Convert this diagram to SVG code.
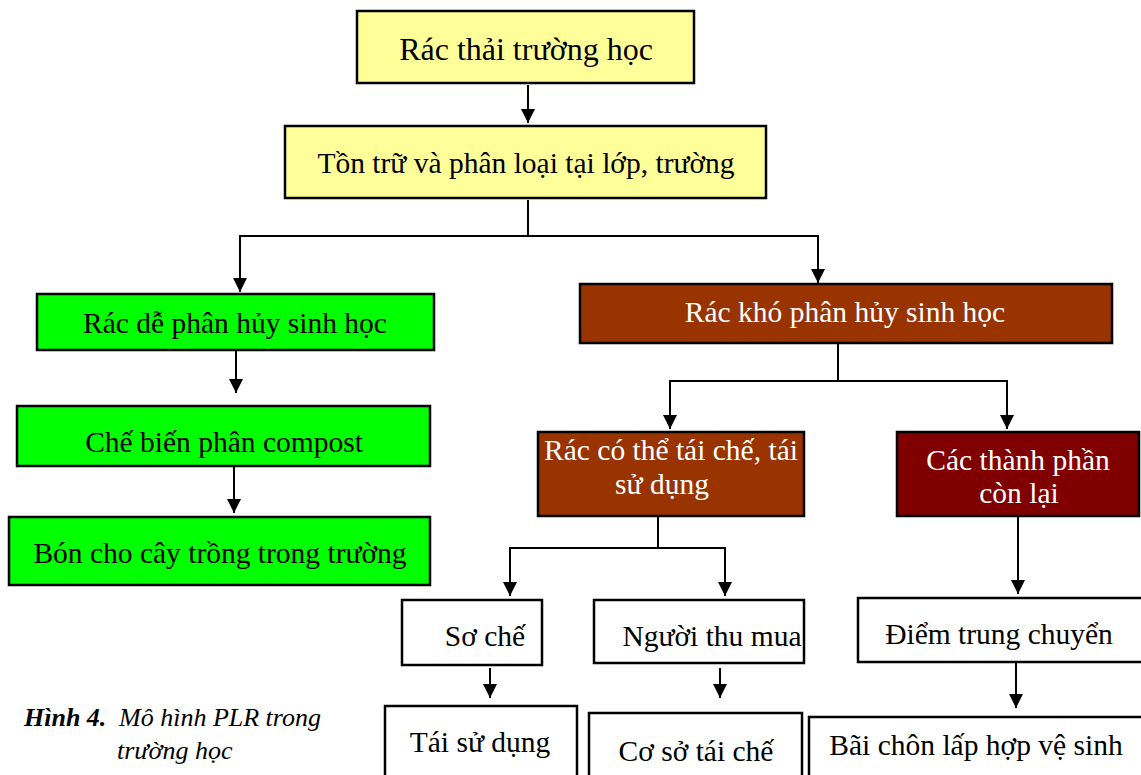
<svg xmlns="http://www.w3.org/2000/svg" width="1141" height="775" viewBox="0 0 1141 775">
<style>
.b{stroke:#000;stroke-width:2.5}
.y{fill:#FFFF99}.g{fill:#00FF00}.br{fill:#993300}.dr{fill:#800000}.w{fill:#fff}
text{font-family:"Liberation Serif","Times New Roman",serif;font-size:29.5px;text-anchor:middle;fill:#000}
.wt{fill:#fff}
.cap{font-size:26px;font-style:italic;text-anchor:start}
.c{fill:none;stroke:#000;stroke-width:2}
</style>
<defs>
<marker id="ah" viewBox="0 0 10 10" refX="10" refY="5" markerWidth="7" markerHeight="7" markerUnits="strokeWidth" orient="auto">
<path d="M0,0L10,5L0,10Z" fill="#000"/>
</marker>
</defs>
<rect width="1141" height="775" fill="#fff"/>
<g id="connectors">
<path class="c" d="M528,85V123" marker-end="url(#ah)"/>
<path class="c" d="M528,200V236H240V292" marker-end="url(#ah)"/>
<path class="c" d="M528,236H818V283" marker-end="url(#ah)"/>
<path class="c" d="M236,348V393" marker-end="url(#ah)"/>
<path class="c" d="M234,467V513" marker-end="url(#ah)"/>
<path class="c" d="M838,344V381H670V429" marker-end="url(#ah)"/>
<path class="c" d="M838,381H1007V429" marker-end="url(#ah)"/>
<path class="c" d="M658,517V548H510V596" marker-end="url(#ah)"/>
<path class="c" d="M658,548H725V596" marker-end="url(#ah)"/>
<path class="c" d="M1018,517V594" marker-end="url(#ah)"/>
<path class="c" d="M490,668V698" marker-end="url(#ah)"/>
<path class="c" d="M720,668V698" marker-end="url(#ah)"/>
<path class="c" d="M1016,663V708" marker-end="url(#ah)"/>
</g>
<g id="n1"><rect class="b y" x="357" y="11" width="337" height="72"/><text x="526" y="60" style="font-size:32px">Rác thải trường học</text></g>
<g id="n2"><rect class="b y" x="285" y="126" width="481" height="72"/><text x="526" y="173">Tồn trữ và phân loại tại lớp, trường</text></g>
<g id="n3"><rect class="b g" x="37" y="294" width="397" height="56"/><text x="235" y="333">Rác dễ phân hủy sinh học</text></g>
<g id="n4"><rect class="b g" x="17" y="406" width="413" height="60"/><text x="224" y="452">Chế biến phân compost</text></g>
<g id="n5"><rect class="b g" x="9" y="517" width="421" height="68"/><text x="220" y="563">Bón cho cây trồng trong trường</text></g>
<g id="n6"><rect class="b br" x="580" y="284" width="532" height="59"/><text class="wt" x="845" y="322">Rác khó phân hủy sinh học</text></g>
<g id="n7"><rect class="b br" x="538" y="432" width="266" height="84"/><text class="wt" x="671" y="460">Rác có thể tái chế, tái</text><text class="wt" x="662" y="494">sử dụng</text></g>
<g id="n8"><rect class="b dr" x="897" y="432" width="242" height="84"/><text class="wt" x="1018" y="470">Các thành phần</text><text class="wt" x="1019" y="503">còn lại</text></g>
<g id="n9"><rect class="b w" x="402" y="600" width="140" height="65"/><text x="485" y="646">Sơ chế</text></g>
<g id="n10"><rect class="b w" x="594" y="600" width="210" height="63"/><text x="712" y="646">Người thu mua</text></g>
<g id="n11"><rect class="b w" x="858" y="598" width="285" height="64"/><text x="999" y="644">Điểm trung chuyển</text></g>
<g id="n12"><rect class="b w" x="385" y="706" width="192" height="72"/><text x="480" y="752">Tái sử dụng</text></g>
<g id="n13"><rect class="b w" x="589" y="713" width="213" height="65"/><text x="696" y="761">Cơ sở tái chế</text></g>
<g id="n14"><rect class="b w" x="809" y="717" width="334" height="62"/><text x="976" y="755">Bãi chôn lấp hợp vệ sinh</text></g>
<g id="caption">
<text class="cap" x="24" y="726" font-weight="bold">Hình 4.</text>
<text class="cap" x="119" y="726">Mô hình PLR trong</text>
<text class="cap" x="117" y="759">trường học</text>
</g>
</svg>
